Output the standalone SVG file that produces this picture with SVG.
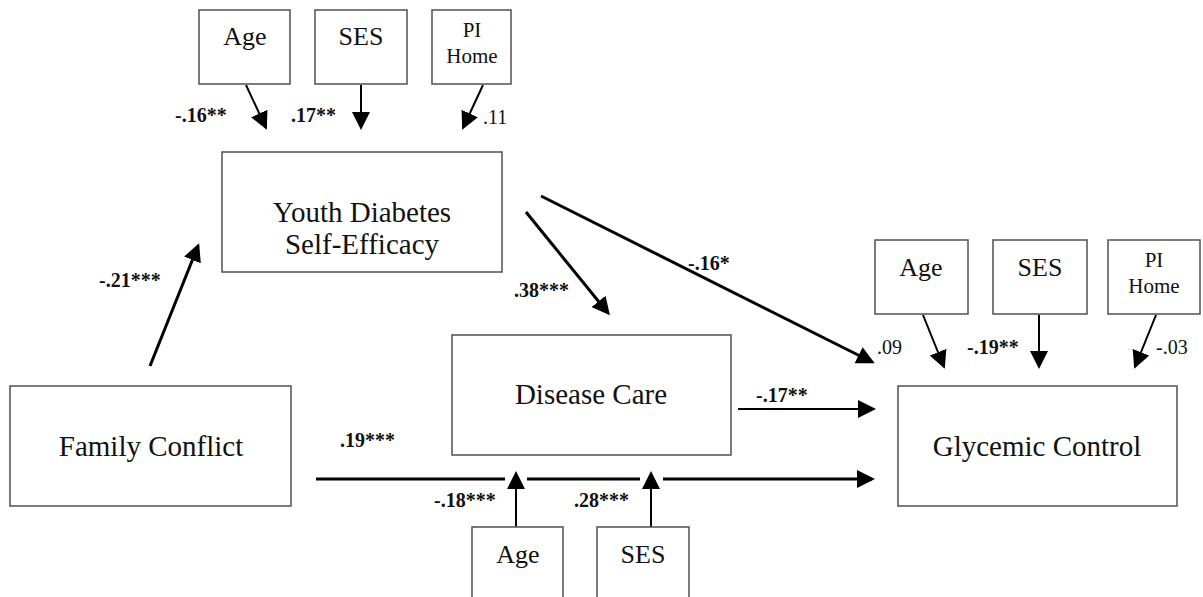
<svg xmlns="http://www.w3.org/2000/svg" width="1203" height="597" viewBox="0 0 1203 597">
<style>
.box{fill:#fff;stroke:#5a5a5a;stroke-width:1.6}
.big{font-family:"Liberation Serif",serif;font-size:29px;text-anchor:middle;fill:#111}
.sm{font-family:"Liberation Serif",serif;font-size:26px;text-anchor:middle;fill:#111}
.xs{font-family:"Liberation Serif",serif;font-size:21px;text-anchor:middle;fill:#111}
.lb{font-family:"Liberation Serif",serif;font-size:20px;font-weight:bold;fill:#111}
.ln{font-family:"Liberation Serif",serif;font-size:20px;fill:#111}
.thick{stroke:#000;stroke-width:3;fill:none}
.thin{stroke:#000;stroke-width:2;fill:none}
</style>
<defs>
<marker id="ah" markerWidth="6" markerHeight="6" refX="5" refY="3" orient="auto" markerUnits="strokeWidth"><path d="M0,0 L6,3 L0,6 z" fill="#000"/></marker>
<marker id="ahs" markerWidth="9" markerHeight="9" refX="8" refY="4.5" orient="auto" markerUnits="strokeWidth"><path d="M0,0 L9,4.5 L0,9 z" fill="#000"/></marker>
</defs>
<rect width="1203" height="597" fill="#fff"/>

<g id="connectors">
<line class="thick" x1="150" y1="366" x2="198" y2="246" marker-end="url(#ah)"/>
<line class="thick" x1="526" y1="212" x2="608" y2="313" marker-end="url(#ah)"/>
<line class="thick" x1="541" y1="196" x2="872" y2="362" marker-end="url(#ah)"/>
<line class="thin" x1="738" y1="409" x2="874" y2="409" marker-end="url(#ahs)"/>
<line class="thick" x1="316" y1="479" x2="505" y2="479"/>
<line class="thick" x1="527" y1="479" x2="640" y2="479"/>
<line class="thick" x1="663" y1="479" x2="872" y2="479" marker-end="url(#ah)"/>
<line class="thin" x1="246" y1="85" x2="266" y2="128" marker-end="url(#ahs)"/>
<line class="thin" x1="361" y1="85" x2="361" y2="128" marker-end="url(#ahs)"/>
<line class="thin" x1="483" y1="85" x2="463" y2="128" marker-end="url(#ahs)"/>
<line class="thin" x1="923" y1="315" x2="944" y2="367" marker-end="url(#ahs)"/>
<line class="thin" x1="1039" y1="315" x2="1039" y2="367" marker-end="url(#ahs)"/>
<line class="thin" x1="1156" y1="315" x2="1135" y2="367" marker-end="url(#ahs)"/>
<line class="thin" x1="516" y1="527" x2="516" y2="473" stroke-width="1.5" marker-end="url(#ahs)"/>
<line class="thin" x1="651" y1="527" x2="651" y2="473" stroke-width="1.5" marker-end="url(#ahs)"/>
</g>

<g id="labels">
<text class="lb" x="175" y="122">-.16**</text>
<text class="lb" x="291" y="122">.17**</text>
<text class="ln" x="483" y="124">.11</text>
<text class="lb" x="99" y="287">-.21***</text>
<text class="lb" x="514" y="297">.38***</text>
<text class="lb" x="688" y="270">-.16*</text>
<text class="lb" x="756" y="402">-.17**</text>
<text class="lb" x="340" y="447">.19***</text>
<text class="lb" x="434" y="507">-.18***</text>
<text class="lb" x="574" y="507">.28***</text>
<text class="ln" x="877" y="354">.09</text>
<text class="lb" x="967" y="354">-.19**</text>
<text class="ln" x="1156" y="354">-.03</text>
</g>

<g id="age-top"><rect class="box" x="199" y="10" width="91" height="74"/><text class="sm" x="245" y="45">Age</text></g>
<g id="ses-top"><rect class="box" x="315" y="10" width="92" height="74"/><text class="sm" x="361" y="45">SES</text></g>
<g id="pihome-top"><rect class="box" x="432" y="10" width="79" height="74"/><text class="xs" x="472" y="37">PI</text><text class="xs" x="472" y="63">Home</text></g>

<g id="youth"><rect class="box" x="222" y="152" width="280" height="120"/><text class="big" x="362" y="222">Youth Diabetes</text><text class="big" x="362" y="254">Self-Efficacy</text></g>
<g id="family"><rect class="box" x="10" y="386" width="281" height="120"/><text class="big" x="151" y="456">Family Conflict</text></g>
<g id="disease"><rect class="box" x="452" y="335" width="279" height="120"/><text class="big" x="591" y="404">Disease Care</text></g>
<g id="glycemic"><rect class="box" x="898" y="386" width="279" height="120"/><text class="big" x="1037" y="456">Glycemic Control</text></g>

<g id="age-right"><rect class="box" x="875" y="240" width="93" height="74"/><text class="sm" x="921" y="276">Age</text></g>
<g id="ses-right"><rect class="box" x="993" y="240" width="94" height="74"/><text class="sm" x="1040" y="276">SES</text></g>
<g id="pihome-right"><rect class="box" x="1108" y="240" width="92" height="74"/><text class="xs" x="1154" y="267">PI</text><text class="xs" x="1154" y="293">Home</text></g>

<g id="age-bottom"><rect class="box" x="472" y="527" width="91" height="74"/><text class="sm" x="518" y="563">Age</text></g>
<g id="ses-bottom"><rect class="box" x="597" y="527" width="92" height="74"/><text class="sm" x="643" y="563">SES</text></g>
</svg>
